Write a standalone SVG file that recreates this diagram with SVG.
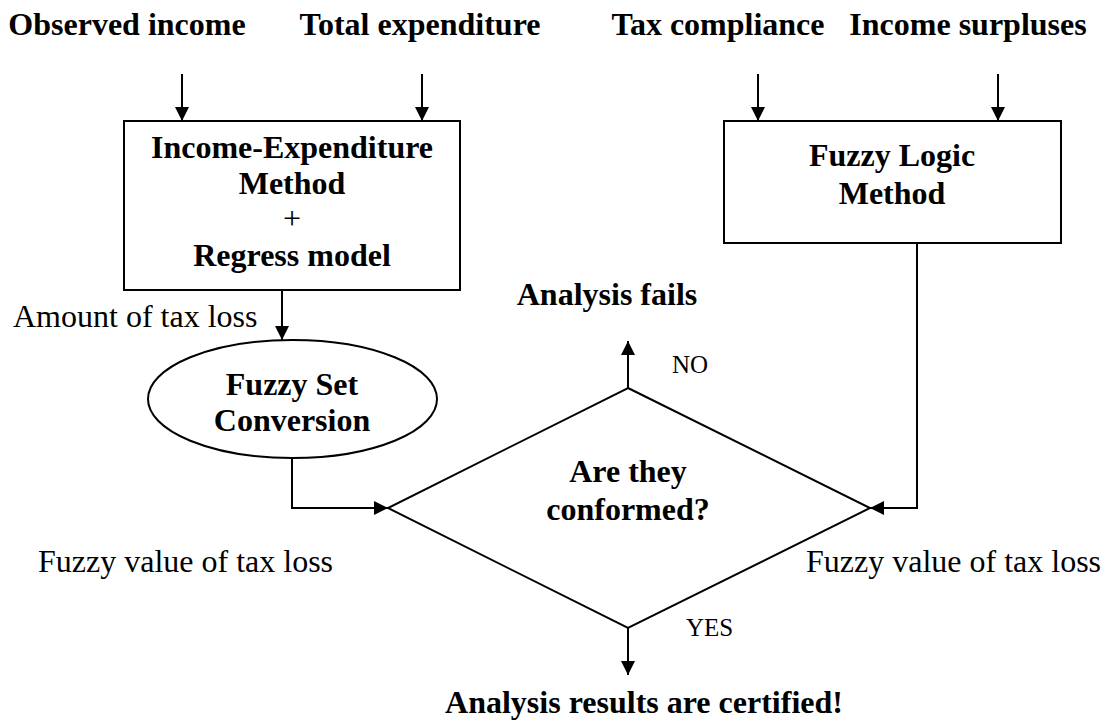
<svg xmlns="http://www.w3.org/2000/svg" width="1109" height="720" viewBox="0 0 1109 720">
<defs>
<marker id="ah" viewBox="0 0 10 10" refX="10" refY="5" markerWidth="15" markerHeight="14" markerUnits="userSpaceOnUse" orient="auto">
<path d="M0,0 L10,5 L0,10 z" fill="#000"/>
</marker>
<style>
.b{font-family:"Liberation Serif","Times New Roman",serif;font-weight:bold;font-size:32px;fill:#000;text-anchor:middle}
.r{font-family:"Liberation Serif","Times New Roman",serif;font-size:32px;fill:#000}
.s{font-family:"Liberation Serif","Times New Roman",serif;font-size:25px;fill:#000}
.shape{fill:#fff;stroke:#000;stroke-width:2}
.c{fill:none;stroke:#000;stroke-width:2;marker-end:url(#ah)}
</style>
</defs>
<rect width="1109" height="720" fill="#fff"/>
<g id="inputs">
<text class="b" x="127" y="35">Observed income</text>
<text class="b" x="420" y="35">Total expenditure</text>
<text class="b" x="718" y="35">Tax compliance</text>
<text class="b" x="968" y="35">Income surpluses</text>
</g>
<g id="ie-method">
<rect class="shape" x="124" y="121" width="336" height="169"/>
<text class="b" x="292" y="158">Income-Expenditure</text>
<text class="b" x="292" y="194">Method</text>
<text class="r" x="292" y="229" text-anchor="middle">+</text>
<text class="b" x="292" y="266">Regress model</text>
</g>
<g id="fuzzy-logic">
<rect class="shape" x="724" y="121" width="337" height="122"/>
<text class="b" x="892" y="166">Fuzzy Logic</text>
<text class="b" x="892" y="204">Method</text>
</g>
<g id="fuzzy-set">
<ellipse class="shape" cx="292.5" cy="399" rx="144.5" ry="59"/>
<text class="b" x="292" y="395">Fuzzy Set</text>
<text class="b" x="292" y="431">Conversion</text>
</g>
<g id="decision">
<polygon class="shape" points="628,388 870,508 628,628 388,508"/>
<text class="b" x="628" y="482">Are they</text>
<text class="b" x="628" y="520">conformed?</text>
</g>
<g id="fail">
<text class="b" x="607" y="305">Analysis fails</text>
</g>
<g id="certified">
<text class="b" x="644" y="713">Analysis results are certified!</text>
</g>
<g id="connectors">
<line class="c" x1="182" y1="74" x2="182" y2="121"/>
<line class="c" x1="422" y1="74" x2="422" y2="121"/>
<line class="c" x1="758" y1="74" x2="758" y2="121"/>
<line class="c" x1="998" y1="74" x2="998" y2="121"/>
<line class="c" x1="282" y1="290" x2="282" y2="340"/>
<polyline class="c" points="292,458 292,508 388,508"/>
<polyline class="c" points="917,243 917,508 870,508"/>
<line class="c" x1="628" y1="388" x2="628" y2="341"/>
<line class="c" x1="628" y1="628" x2="628" y2="675"/>
</g>
<g id="labels">
<text class="r" x="13" y="327">Amount of tax loss</text>
<text class="r" x="38" y="572">Fuzzy value of tax loss</text>
<text class="r" x="806" y="572">Fuzzy value of tax loss</text>
<text class="s" x="672" y="373">NO</text>
<text class="s" x="686" y="636">YES</text>
</g>
</svg>
